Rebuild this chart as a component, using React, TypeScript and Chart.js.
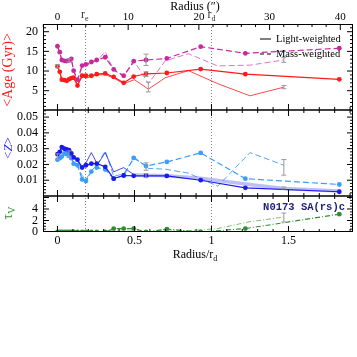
import React, { useEffect, useRef } from "react";
import { Chart, registerables } from "chart.js";

Chart.register(...registerables);

// ---------- axis ranges / ticks ----------
const XMIN = -0.094;
const XMAX = 1.919;
const ARCSEC_PER_RD = 21.78;
const RE = 0.178;
const RD = 1.0;
const AGE_MIN = 0.09;
const AGE_MAX = 21.96;
const Z_MIN = 0;
const Z_MAX = 0.0545;
const TAU_MIN = 0;
const TAU_MAX = 6.26;

const X_TICKS = [0, 0.5, 1, 1.5];
const X_TICK_LABELS = ["0", "0.5", "1", "1.5"];
const ARCSEC_TICKS = [0, 10, 20, 30, 40];
const ARCSEC_TICK_LABELS = ["0", "10", "20", "30", "40"];
const AGE_TICKS = [5, 10, 15, 20];
const AGE_TICK_LABELS = ["5", "10", "15", "20"];
const Z_TICKS = [0.01, 0.02, 0.03, 0.04, 0.05];
const Z_TICK_LABELS = ["0.01", "0.02", "0.03", "0.04", "0.05"];
const TAU_TICKS = [0, 2, 4];
const TAU_TICK_LABELS = ["0", "2", "4"];

// ---------- data: main (marked) profiles ----------
const R = [0, 0.015, 0.028, 0.045, 0.06, 0.075, 0.09, 0.105, 0.13, 0.16, 0.185, 0.22, 0.255, 0.31, 0.365, 0.43, 0.495, 0.575, 0.71, 0.93, 1.22, 1.83];
const AGE_LIGHT = [11.2, 9.8, 7.8, 7.7, 7.5, 7.9, 8.2, 8.3, 6.3, 8.8, 8.8, 8.8, 9.2, 9.4, 8.5, 7.0, 8.6, 9.3, 9.5, 10.5, 9.2, 7.9];
const AGE_MASS = [16.3, 14.8, 12.8, 12.6, 12.5, 12.7, 13.1, 10.1, 7.8, 11.4, 11.7, 12.3, 12.8, 13.5, 10.4, 8.8, 12.5, 12.8, 13.2, 16.2, 14.5, 15.8];
const Z_LIGHT = [0.0265, 0.028, 0.031, 0.030, 0.0295, 0.029, 0.027, 0.0245, 0.023, 0.018, 0.0195, 0.0205, 0.0205, 0.0185, 0.011, 0.013, 0.0128, 0.0127, 0.0127, 0.0100, 0.0052, 0.0027];
const Z_MASS = [0.023, 0.024, 0.025, 0.027, 0.0265, 0.026, 0.024, 0.0205, 0.0195, 0.0105, 0.0095, 0.0155, 0.018, 0.0168, 0.011, 0.013, 0.0241, 0.019, 0.0216, 0.0273, 0.011, 0.0073];
const TAU = [0, 0, 0, 0, 0, 0, 0, 0, 0, 0, 0, 0, 0, 0, 0.6, 0.6, 0.6, 0, 0.5, 0, 0.6, 3.1];

// ---------- data: alternative (thin, unmarked) profiles ----------
const R_ALT = [0, 0.015, 0.028, 0.045, 0.06, 0.075, 0.09, 0.105, 0.13, 0.16, 0.185, 0.22, 0.26, 0.31, 0.365, 0.43, 0.5, 0.59, 0.7, 0.85, 1.04, 1.25, 1.47];
const AGE_LIGHT_ALT = [11.0, 9.6, 7.7, 7.5, 7.4, 7.7, 8.0, 8.1, 6.6, 8.6, 8.2, 8.6, 9.0, 9.1, 8.2, 6.8, 7.8, 5.4, 8.3, 10.1, 6.8, 3.7, 5.9];
const AGE_MASS_ALT = [16.2, 14.7, 12.7, 12.4, 12.3, 12.6, 12.9, 10.0, 7.6, 11.0, 11.3, 12.0, 12.8, 14.9, 10.2, 8.6, 12.4, 6.8, 12.6, 14.4, 11.3, 11.5, 12.8];
const Z_LIGHT_ALT = [0.027, 0.029, 0.030, 0.029, 0.029, 0.028, 0.027, 0.024, 0.022, 0.019, 0.021, 0.0275, 0.020, 0.0275, 0.0153, 0.018, 0.0133];
const Z_MASS_ALT = [0.023, 0.025, 0.026, 0.027, 0.027, 0.026, 0.025, 0.021, 0.019, 0.013, 0.0105, 0.016, 0.020, 0.0286, 0.0125, 0.014, 0.0244, 0.0175, 0.017, 0.0145, 0.0062, 0.0275, 0.0195];
const TAU_ALT = [0, 0, 0, 0, 0, 0, 0, 0, 0, 0, 0, 0, 0, 0, 0.3, 0.4, 0.3, 0, 0.4, 0.2, 0.6, 1.8, 2.6];

const BAND_R = [0.5, 0.575, 0.71, 0.93, 1.22, 1.47, 1.83];
const BAND_Z = [0.0133, 0.0132, 0.0129, 0.0113, 0.0076, 0.0048, 0.0031];

// ---------- error bars ----------
const ERR_AGE_R = [0, 0.075, 0.575, 0.575, 0.59, 1.47, 1.47];
const ERR_AGE_LO = [10.8, 12.3, 11.4, 8.6, 4.7, 12.2, 5.5];
const ERR_AGE_HI = [11.6, 13.1, 14.3, 9.8, 7.2, 13.4, 6.3];
const ERR_Z_R = [0, 0.075, 0.575, 0.575, 1.47, 1.47];
const ERR_Z_LO = [0.0231, 0.0244, 0.0163, 0.0117, 0.0132, 0.0045];
const ERR_Z_HI = [0.0267, 0.0286, 0.021, 0.0142, 0.0231, 0.0057];
const ERR_TAU_R = [1.47];
const ERR_TAU_LO = [1.74];
const ERR_TAU_HI = [3.3];

const GALAXY = "N0173 SA(rs)c";
const LEGEND_LABELS = ["Light-weighted", "Mass-weighted"];

// ---------- styles ----------
const RED = "#ff1a1a";
const MAGENTA = "#c8289e";
const MAGENTA_THIN = "#d866c4";
const BLUE = "#1a1aee";
const LBLUE = "#3a9cff";
const GREEN = "#2e8f2e";
const GREEN_THIN = "#5aae5a";
const SERIF = '"Liberation Serif", "Times New Roman", serif';

const pts = (xs: number[], ys: number[]) => ys.map((y, i) => ({ x: xs[i], y }));

function series(xs: number[], ys: number[], yAxisID: string, color: string, opts: any = {}) {
  return {
    type: "line",
    data: pts(xs, ys),
    xAxisID: "x",
    yAxisID,
    borderColor: color,
    backgroundColor: color,
    borderWidth: opts.width ?? 1.2,
    borderDash: opts.dash ?? [],
    pointRadius: opts.marker ? 2.4 : 0,
    pointBorderWidth: 0,
    pointBackgroundColor: color,
    fill: false,
    tension: 0,
  };
}

function drawErr(ctx: any, xs: any, ys: any, R0: number[], LO: number[], HI: number[]) {
  ctx.strokeStyle = "#9a9a9a";
  ctx.lineWidth = 1;
  for (let i = 0; i < R0.length; i++) {
    const px = xs.getPixelForValue(R0[i]);
    const y0 = ys.getPixelForValue(LO[i]);
    const y1 = ys.getPixelForValue(HI[i]);
    ctx.beginPath();
    ctx.moveTo(px, y0);
    ctx.lineTo(px, y1);
    ctx.moveTo(px - 2.5, y0);
    ctx.lineTo(px + 2.5, y0);
    ctx.moveTo(px - 2.5, y1);
    ctx.lineTo(px + 2.5, y1);
    ctx.stroke();
  }
}

function hTicks(ctx: any, scale: any, step: number, majorEvery: number, y: number, dir: number) {
  const k0 = Math.ceil(scale.min / step - 1e-9);
  const k1 = Math.floor(scale.max / step + 1e-9);
  ctx.beginPath();
  for (let k = k0; k <= k1; k++) {
    const px = scale.getPixelForValue(k * step);
    const len = k % majorEvery === 0 ? 6 : 3;
    ctx.moveTo(px, y);
    ctx.lineTo(px, y + dir * len);
  }
  ctx.stroke();
}

function vTicks(ctx: any, scale: any, step: number, majorEvery: number, left: number, right: number) {
  const k0 = Math.ceil(scale.min / step - 1e-9);
  const k1 = Math.floor(scale.max / step + 1e-9);
  ctx.beginPath();
  for (let k = k0; k <= k1; k++) {
    const py = scale.getPixelForValue(k * step);
    if (py < scale.top + 0.5 || py > scale.bottom - 0.5) continue;
    const len = k % majorEvery === 0 ? 6 : 3;
    ctx.moveTo(left, py);
    ctx.lineTo(left + len, py);
    ctx.moveTo(right, py);
    ctx.lineTo(right - len, py);
  }
  ctx.stroke();
}

function subText(ctx: any, base: string, sub: string, cx: number, cy: number, size: number, color: string) {
  ctx.fillStyle = color;
  ctx.font = `${size}px ${SERIF}`;
  const w1 = ctx.measureText(base).width;
  ctx.font = `${Math.round(size * 0.7)}px ${SERIF}`;
  const w2 = ctx.measureText(sub).width;
  const x0 = cx - (w1 + w2) / 2;
  ctx.textAlign = "left";
  ctx.textBaseline = "middle";
  ctx.font = `${size}px ${SERIF}`;
  ctx.fillText(base, x0, cy);
  ctx.font = `${Math.round(size * 0.7)}px ${SERIF}`;
  ctx.fillText(sub, x0 + w1, cy + size * 0.3);
}

const decor = {
  id: "decor",
  beforeDatasetsDraw(chart: any) {
    const { ctx, chartArea: a, scales } = chart;
    ctx.save();
    ctx.strokeStyle = "#808080";
    ctx.lineWidth = 1;
    ctx.setLineDash([1, 2]);
    for (const v of [RE, RD]) {
      const px = Math.round(scales.x.getPixelForValue(v)) + 0.5;
      ctx.beginPath();
      ctx.moveTo(px, a.top);
      ctx.lineTo(px, a.bottom);
      ctx.stroke();
    }
    ctx.restore();
  },
  afterDatasetsDraw(chart: any) {
    const { ctx, chartArea: a, scales } = chart;
    const { x, x2, yAge, yZ, yTau } = scales;
    ctx.save();
    drawErr(ctx, x, yAge, ERR_AGE_R, ERR_AGE_LO, ERR_AGE_HI);
    drawErr(ctx, x, yZ, ERR_Z_R, ERR_Z_LO, ERR_Z_HI);
    drawErr(ctx, x, yTau, ERR_TAU_R, ERR_TAU_LO, ERR_TAU_HI);

    // frame & panel separators
    ctx.strokeStyle = "#000";
    ctx.lineWidth = 1;
    ctx.strokeRect(a.left + 0.5, a.top + 0.5, a.right - a.left - 1, a.bottom - a.top - 1);
    ctx.lineWidth = 1.3;
    for (const s of [yZ, yTau]) {
      ctx.beginPath();
      ctx.moveTo(a.left, s.top);
      ctx.lineTo(a.right, s.top);
      ctx.stroke();
    }
    ctx.lineWidth = 1;
    // ticks
    hTicks(ctx, x2, 2, 5, a.top, 1);
    for (const s of [yAge, yZ, yTau]) {
      if (s !== yAge) hTicks(ctx, x, 0.1, 5, s.top, 1);
      hTicks(ctx, x, 0.1, 5, s.bottom, -1);
    }
    vTicks(ctx, yAge, 1, 5, a.left, a.right);
    vTicks(ctx, yZ, 0.002, 5, a.left, a.right);
    vTicks(ctx, yTau, 0.5, 4, a.left, a.right);

    // legend
    ctx.strokeStyle = "#000";
    ctx.lineWidth = 1;
    ctx.beginPath();
    ctx.moveTo(260, 39);
    ctx.lineTo(271, 39);
    ctx.stroke();
    ctx.setLineDash([4, 3]);
    ctx.beginPath();
    ctx.moveTo(260, 54);
    ctx.lineTo(273, 54);
    ctx.stroke();
    ctx.setLineDash([]);
    ctx.fillStyle = "#000";
    ctx.font = `10.5px ${SERIF}`;
    ctx.textAlign = "left";
    ctx.textBaseline = "middle";
    ctx.fillText(LEGEND_LABELS[0], 276, 39);
    ctx.fillText(LEGEND_LABELS[1], 276, 54);

    // galaxy name
    ctx.fillStyle = "#1e1e78";
    ctx.font = 'bold 10.5px "Liberation Mono", "DejaVu Sans Mono", monospace';
    ctx.textAlign = "right";
    ctx.fillText(GALAXY, 345, 207);

    // top labels
    ctx.fillStyle = "#000";
    ctx.font = `12px ${SERIF}`;
    ctx.textAlign = "center";
    ctx.fillText("Radius (\u2033)", 195, 7);
    subText(ctx, "r", "e", x.getPixelForValue(RE), 15, 12, "#333");
    subText(ctx, "r", "d", x.getPixelForValue(RD), 15, 12, "#333");
    // bottom title
    subText(ctx, "Radius/r", "d", 195, 255, 12, "#000");

    // y titles
    ctx.save();
    ctx.translate(8, 70);
    ctx.rotate(-Math.PI / 2);
    ctx.fillStyle = RED;
    ctx.font = `14px ${SERIF}`;
    ctx.textAlign = "center";
    ctx.textBaseline = "middle";
    ctx.fillText("<Age (Gyr)>", 0, 0);
    ctx.restore();

    ctx.save();
    ctx.translate(9, 148);
    ctx.rotate(-Math.PI / 2);
    ctx.fillStyle = "#2a2aff";
    ctx.textBaseline = "middle";
    ctx.textAlign = "left";
    ctx.font = `13px ${SERIF}`;
    const wl = ctx.measureText("<").width;
    ctx.font = `italic 13px ${SERIF}`;
    const wz = ctx.measureText("Z").width;
    const tot = wl * 2 + wz;
    ctx.font = `13px ${SERIF}`;
    ctx.fillText("<", -tot / 2, 0);
    ctx.font = `italic 13px ${SERIF}`;
    ctx.fillText("Z", -tot / 2 + wl, 0);
    ctx.font = `13px ${SERIF}`;
    ctx.fillText(">", -tot / 2 + wl + wz, 0);
    ctx.restore();

    ctx.save();
    ctx.translate(8, 213);
    ctx.rotate(-Math.PI / 2);
    subText(ctx, "\u03c4", "V", 0, 0, 14, GREEN);
    ctx.restore();

    ctx.restore();
  },
};

export default function App() {
  const ref = useRef<HTMLCanvasElement>(null);
  useEffect(() => {
    const canvas = ref.current;
    if (!canvas) return;
    const tickFont = { family: SERIF, size: 12 };
    const yCommon = (ticks: number[], labels: string[]) => ({
      type: "linear",
      position: "left",
      stack: "panels",
      grid: { display: false, drawTicks: false },
      border: { display: false },
      ticks: {
        font: tickFont,
        color: "#000",
        padding: 5,
        autoSkip: false,
        callback: (_v: any, i: number) => labels[i],
      },
      afterBuildTicks: (s: any) => {
        s.ticks = ticks.map((v) => ({ value: v }));
      },
      afterFit: (s: any) => {
        s.width = 43;
      },
    });
    const chart = new Chart(canvas, {
      type: "line",
      data: {
        datasets: [
          series(R, AGE_LIGHT, "yAge", RED, { marker: true, width: 1.2 }),
          series(R, AGE_MASS, "yAge", MAGENTA, { marker: true, width: 1.2, dash: [6, 3] }),
          series(R_ALT, AGE_LIGHT_ALT, "yAge", RED, { width: 0.8 }),
          series(R_ALT, AGE_MASS_ALT, "yAge", MAGENTA_THIN, { width: 0.9, dash: [6, 3] }),
          series(R, Z_LIGHT, "yZ", BLUE, { marker: true, width: 1.2 }),
          series(R, Z_MASS, "yZ", LBLUE, { marker: true, width: 1.2, dash: [6, 3] }),
          series(R_ALT, Z_LIGHT_ALT, "yZ", BLUE, { width: 0.8 }),
          series(BAND_R, BAND_Z, "yZ", "rgba(110,110,235,0.45)", { width: 3.5 }),
          series(R_ALT, Z_MASS_ALT, "yZ", LBLUE, { width: 0.9, dash: [6, 3] }),
          series(R, TAU, "yTau", GREEN, { marker: true, width: 1.1, dash: [5, 2, 1, 2] }),
          series(R_ALT, TAU_ALT, "yTau", GREEN_THIN, { width: 0.8, dash: [5, 2, 1, 2] }),
        ] as any,
      },
      options: {
        animation: false,
        responsive: false,
        maintainAspectRatio: false,
        layout: { padding: { left: 0, right: 4, top: 0, bottom: 0 } },
        plugins: { legend: { display: false }, tooltip: { enabled: false } },
        scales: {
          x: {
            type: "linear",
            position: "bottom",
            min: XMIN,
            max: XMAX,
            grid: { display: false, drawTicks: false },
            border: { display: false },
            ticks: {
              font: tickFont,
              color: "#000",
              padding: 2,
              maxRotation: 0,
              autoSkip: false,
              callback: (_v: any, i: number) => X_TICK_LABELS[i],
            },
            afterBuildTicks: (s: any) => {
              s.ticks = X_TICKS.map((v) => ({ value: v }));
            },
            afterFit: (s: any) => {
              s.height = 125;
            },
          },
          x2: {
            type: "linear",
            position: "top",
            min: XMIN * ARCSEC_PER_RD,
            max: XMAX * ARCSEC_PER_RD,
            grid: { display: false, drawTicks: false },
            border: { display: false },
            ticks: {
              font: { family: SERIF, size: 11 },
              color: "#000",
              padding: 0,
              maxRotation: 0,
              autoSkip: false,
              callback: (_v: any, i: number) => ARCSEC_TICK_LABELS[i],
            },
            afterBuildTicks: (s: any) => {
              s.ticks = ARCSEC_TICKS.map((v) => ({ value: v }));
            },
            afterFit: (s: any) => {
              s.height = 24;
            },
          },
          yAge: { ...yCommon(AGE_TICKS, AGE_TICK_LABELS), min: AGE_MIN, max: AGE_MAX, stackWeight: 86, weight: 3 },
          yZ: { ...yCommon(Z_TICKS, Z_TICK_LABELS), min: Z_MIN, max: Z_MAX, stackWeight: 86, weight: 2 },
          yTau: { ...yCommon(TAU_TICKS, TAU_TICK_LABELS), min: TAU_MIN, max: TAU_MAX, stackWeight: 36, weight: 1 },
        } as any,
      },
      plugins: [decor as any],
    } as any);
    return () => chart.destroy();
  }, []);
  return (
    <div style={{ position: "fixed", left: 0, top: 0, width: 357, height: 357, background: "#fff" }}>
      <canvas ref={ref} width={357} height={357} style={{ display: "block", width: 357, height: 357 }} />
    </div>
  );
}
